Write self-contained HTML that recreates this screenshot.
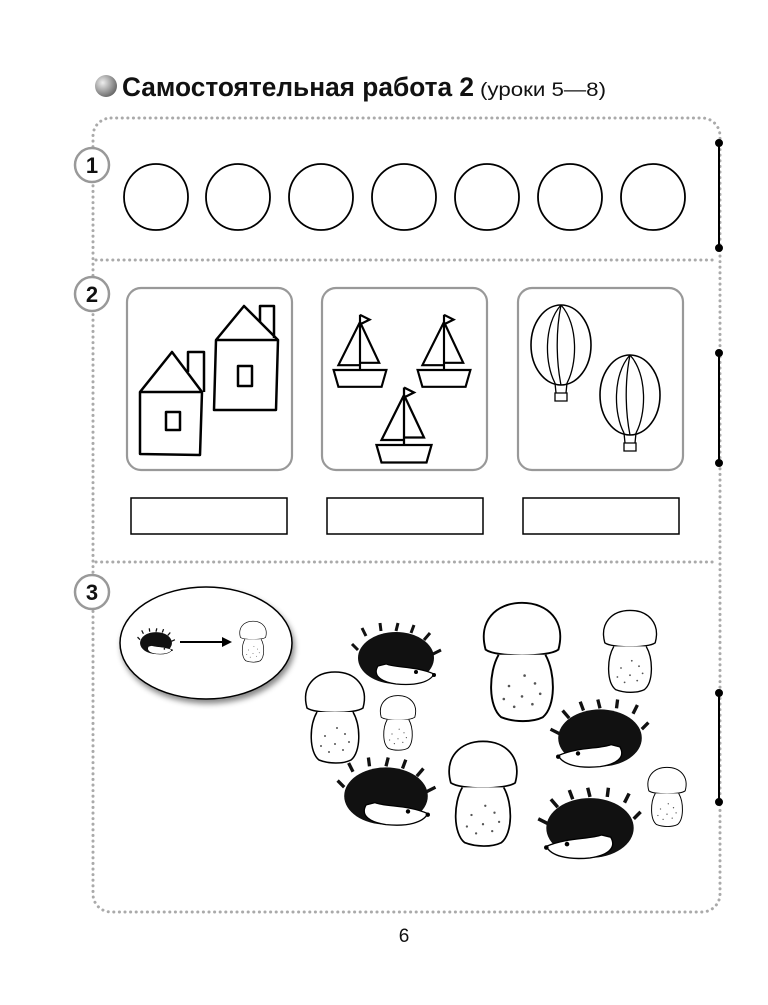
<!DOCTYPE html>
<html><head><meta charset="utf-8"><style>
body{margin:0;background:#fff;width:768px;height:1000px;overflow:hidden;font-family:"Liberation Sans",sans-serif}
</style></head><body>
<svg width="768" height="1000" viewBox="0 0 768 1000" xmlns="http://www.w3.org/2000/svg">
<defs>
<radialGradient id="ball" cx="0.35" cy="0.35" r="0.7"><stop offset="0" stop-color="#eee"/><stop offset="1" stop-color="#666"/></radialGradient>
<g id="mush">
<path d="M-28,-8 C-34,-30 -20,-44 0,-44 C20,-44 34,-30 28,-8 C20,-2 -20,-2 -28,-8Z" fill="#fff" stroke="#000" stroke-width="1.5"/>
<path d="M-18,-4 C-26,10 -26,36 -16,44 C-6,48 8,48 16,44 C26,36 26,10 18,-4" fill="#fff" stroke="#000" stroke-width="1.5"/>
<g fill="#555"><circle cx="-10" cy="20" r="1"/><circle cx="0" cy="28" r="1"/><circle cx="10" cy="18" r="1"/><circle cx="-6" cy="36" r="1"/><circle cx="8" cy="34" r="1"/><circle cx="-14" cy="30" r="1"/><circle cx="14" cy="26" r="1"/><circle cx="2" cy="12" r="1"/></g>
</g>
<g id="hog">
<ellipse cx="0" cy="0" rx="38" ry="26" fill="#111"/>
<path d="M-38,-8 L-44,-14 M-30,-22 L-34,-30 M-15,-27 L-16,-35 M0,-27 L2,-35 M15,-25 L18,-33 M28,-18 L34,-25 M37,-4 L45,-8" stroke="#111" stroke-width="3"/>
<path d="M-10,6 C0,10 20,8 38,16 C34,24 20,28 0,26 C-14,24 -24,18 -18,8Z" fill="#fff" stroke="#000" stroke-width="1.2"/>
<circle cx="20" cy="14" r="2" fill="#000"/><circle cx="38" cy="17" r="2" fill="#000"/>
</g>
<g id="boat">
<path d="M-22,0 L22,0 L18,14 L-18,14Z" fill="#fff" stroke="#000" stroke-width="1.8"/>
<path d="M0,-46 L0,0 M0,-40 L-18,-4 L0,-4 M0,-40 L16,-6 L0,-6 M0,-46 L8,-42 L0,-38" fill="none" stroke="#000" stroke-width="1.8"/>
</g>
<g id="ball2">
<ellipse cx="0" cy="0" rx="30" ry="40" fill="#fff" stroke="#000" stroke-width="1.6"/>
<path d="M0,-40 C-18,-20 -16,20 -6,38 M0,-40 C18,-20 16,20 6,38 M0,-40 C-6,-10 -4,20 0,40" fill="none" stroke="#000" stroke-width="1.3"/>
<path d="M-6,38 L-5,48 M6,38 L5,48 M-6,48 h12 v8 h-12Z" fill="none" stroke="#000" stroke-width="1.3"/>
</g>
</defs>
<circle cx="106" cy="86" r="11" fill="url(#ball)"/>
<text x="122" y="96" font-size="27" font-weight="bold" fill="#111" textLength="352" lengthAdjust="spacingAndGlyphs">Самостоятельная работа 2</text>
<text x="480" y="96" font-size="19" fill="#111" textLength="126" lengthAdjust="spacingAndGlyphs">(уроки 5—8)</text>
<rect x="93" y="118" width="627" height="794" rx="18" fill="none" stroke="#aaa" stroke-width="3" stroke-dasharray="0.1 5.5" stroke-linecap="round"/>
<line x1="96" y1="260" x2="717" y2="260" stroke="#aaa" stroke-width="3" stroke-dasharray="0.1 5.5" stroke-linecap="round"/>
<line x1="96" y1="562" x2="717" y2="562" stroke="#aaa" stroke-width="3" stroke-dasharray="0.1 5.5" stroke-linecap="round"/>
<g fill="#fff" stroke="#999" stroke-width="2.5"><circle cx="92" cy="165" r="17"/><circle cx="92" cy="294" r="17"/><circle cx="92" cy="592" r="17"/></g>
<g font-size="22" font-weight="bold" text-anchor="middle" fill="#111"><text x="92" y="173">1</text><text x="92" y="302">2</text><text x="92" y="600">3</text></g>
<g stroke="#000" stroke-width="2" fill="#000">
<line x1="719" y1="143" x2="719" y2="248"/><circle cx="719" cy="143" r="3"/><circle cx="719" cy="248" r="3"/>
<line x1="719" y1="353" x2="719" y2="463"/><circle cx="719" cy="353" r="3"/><circle cx="719" cy="463" r="3"/>
<line x1="719" y1="693" x2="719" y2="802"/><circle cx="719" cy="693" r="3"/><circle cx="719" cy="802" r="3"/>
</g>
<g fill="none" stroke="#000" stroke-width="1.8">
<ellipse cx="156" cy="197" rx="32" ry="33"/><ellipse cx="238" cy="197" rx="32" ry="33"/><ellipse cx="321" cy="197" rx="32" ry="33"/><ellipse cx="404" cy="197" rx="32" ry="33"/><ellipse cx="487" cy="197" rx="32" ry="33"/><ellipse cx="570" cy="197" rx="32" ry="33"/><ellipse cx="653" cy="197" rx="32" ry="33"/>
</g>
<g fill="none" stroke="#999" stroke-width="2.2">
<rect x="127" y="288" width="165" height="182" rx="14"/><rect x="322" y="288" width="165" height="182" rx="14"/><rect x="518" y="288" width="165" height="182" rx="14"/>
</g>
<g fill="none" stroke="#000" stroke-width="1.5">
<rect x="131" y="498" width="156" height="36"/><rect x="327" y="498" width="156" height="36"/><rect x="523" y="498" width="156" height="36"/>
</g>
<g fill="none" stroke="#000" stroke-width="2.5" stroke-linejoin="round">
<path d="M140,454 L140,392 L172,352 L202,392 L200,455Z M140,392 L202,392"/>
<path d="M188,372 L188,352 L204,352 L204,392"/>
<rect x="166" y="412" width="14" height="18"/>
<path d="M214,410 L216,340 L244,306 L278,340 L276,410Z M216,340 L278,340"/>
<path d="M260,322 L260,306 L274,306 L274,338"/>
<rect x="238" y="366" width="14" height="20"/>
</g>
<use href="#boat" transform="translate(360,370) scale(1.2)"/><use href="#boat" transform="translate(444,370) scale(1.2)"/><use href="#boat" transform="translate(404,445) scale(1.25)"/>
<use href="#ball2" x="561" y="345"/><use href="#ball2" x="630" y="395"/>
<ellipse cx="206" cy="643" rx="86" ry="56" fill="#fff" stroke="#000" stroke-width="1.5" style="filter:drop-shadow(2px 4px 3px #888)"/>
<use href="#hog" transform="translate(156,643) scale(0.42)"/>
<line x1="180" y1="642" x2="226" y2="642" stroke="#000" stroke-width="2"/><path d="M232,642 L222,637 L222,647Z" fill="#000"/>
<use href="#mush" transform="translate(253,641) scale(0.45)"/>
<use href="#mush" transform="translate(522,660) scale(1.3)"/>
<use href="#mush" transform="translate(630,650) scale(0.9)"/>
<use href="#mush" transform="translate(335,716) scale(1.0)"/>
<use href="#mush" transform="translate(398,722) scale(0.6)"/>
<use href="#mush" transform="translate(483,792) scale(1.15)"/>
<use href="#mush" transform="translate(667,796) scale(0.65)"/>
<use href="#hog" transform="translate(396,658) scale(1)"/>
<use href="#hog" transform="translate(600,738) scale(-1.1,1.1)"/>
<use href="#hog" transform="translate(386,796) scale(1.1)"/>
<use href="#hog" transform="translate(590,828) scale(-1.15,1.15)"/>
<text x="404" y="942" font-size="19" text-anchor="middle" fill="#111">6</text>
</svg>
</body></html>
